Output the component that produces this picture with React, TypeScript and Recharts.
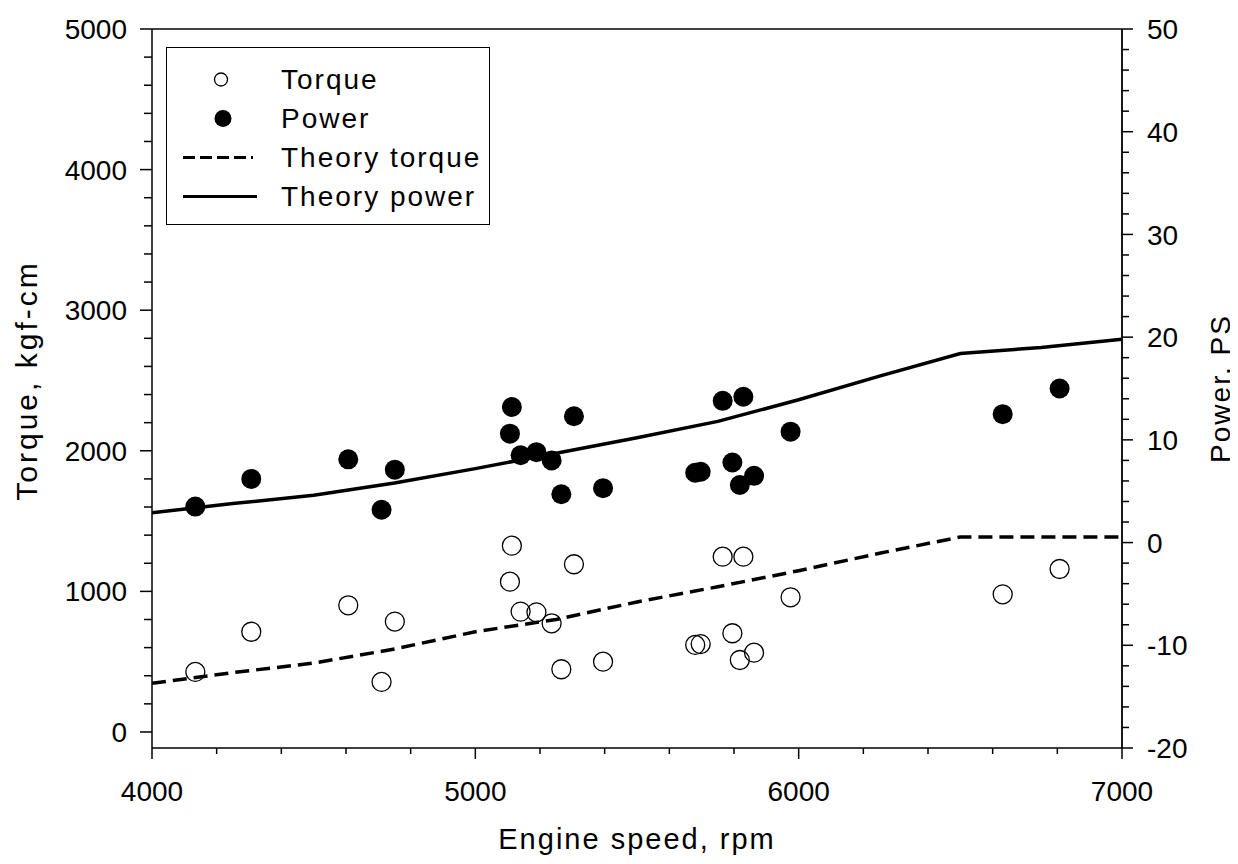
import { ComposedChart, Scatter, Line, XAxis, YAxis, ReferenceLine, Legend } from 'recharts';

const FONT = "Arial, 'Liberation Sans', Helvetica, sans-serif";

// measured points (torque and power share the same engine speeds)
const measuredRpm = [4134, 4307, 4607, 4710, 4751, 5107, 5113, 5140, 5189, 5236, 5266, 5305, 5395, 5680, 5697, 5765, 5795, 5818, 5829, 5862, 5975, 6631, 6807];
const measuredTorque = [427, 713, 901, 356, 785, 1069, 1325, 856, 851, 773, 446, 1193, 500, 619, 625, 1247, 702, 512, 1247, 564, 958, 979, 1159];
const measuredPower = [3.5, 6.2, 8.1, 3.2, 7.1, 10.6, 13.2, 8.5, 8.8, 8.0, 4.7, 12.3, 5.3, 6.8, 6.9, 13.8, 7.8, 5.6, 14.2, 6.5, 10.8, 12.5, 15.0];

// theory curves
const theoryRpm = [4000, 4250, 4500, 4750, 5000, 5250, 5500, 5750, 6000, 6250, 6500, 6750, 7000];
const theoryTorque = [346, 422, 490, 590, 713, 800, 925, 1033, 1147, 1271, 1387, 1387, 1387];
const theoryPower = [2.9, 3.8, 4.6, 5.8, 7.2, 8.7, 10.2, 11.8, 13.9, 16.2, 18.4, 19.0, 19.8];

// ticks (minor + labelled)
const rpmTicks = [4000, 4200, 4400, 4600, 4800, 5000, 5200, 5400, 5600, 5800, 6000, 6200, 6400, 6600, 6800, 7000];
const rpmLabels = [4000, 5000, 6000, 7000];
const torqueTicks = [0, 200, 400, 600, 800, 1000, 1200, 1400, 1600, 1800, 2000, 2200, 2400, 2600, 2800, 3000, 3200, 3400, 3600, 3800, 4000, 4200, 4400, 4600, 4800, 5000];
const torqueLabels = [0, 1000, 2000, 3000, 4000, 5000];
const powerTicks = [-20, -18, -16, -14, -12, -10, -8, -6, -4, -2, 0, 2, 4, 6, 8, 10, 12, 14, 16, 18, 20, 22, 24, 26, 28, 30, 32, 34, 36, 38, 40, 42, 44, 46, 48, 50];
const powerLabels = [-20, -10, 0, 10, 20, 30, 40, 50];

const legendItems = ['Torque', 'Power', 'Theory torque', 'Theory power'];

const measuredRows = measuredRpm.map((rpm, i) => ({ rpm, torque: measuredTorque[i], power: measuredPower[i] }));
const theoryRows = theoryRpm.map((rpm, i) => ({ rpm, torqueTheory: theoryTorque[i], powerTheory: theoryPower[i] }));

function XTick(props: any) {
  const { x, y, payload } = props;
  const major = rpmLabels.includes(payload.value);
  return (
    <g>
      <line x1={x} y1={y} x2={x} y2={y + (major ? 11 : 6)} stroke="#000" strokeWidth={1.5} />
      {major && (
        <text x={x} y={y + 53} textAnchor="middle" fontSize={28} fill="#000" fontFamily={FONT}>
          {payload.value}
        </text>
      )}
    </g>
  );
}

function LeftTick(props: any) {
  const { x, y, payload } = props;
  const major = torqueLabels.includes(payload.value);
  return (
    <g>
      <line x1={x - (major ? 12 : 8)} y1={y} x2={x} y2={y} stroke="#000" strokeWidth={1.5} />
      {major && (
        <text x={x - 25} y={y} dy="0.36em" textAnchor="end" fontSize={28} fill="#000" fontFamily={FONT}>
          {payload.value}
        </text>
      )}
    </g>
  );
}

function RightTick(props: any) {
  const { x, y, payload } = props;
  const major = powerLabels.includes(payload.value);
  return (
    <g>
      <line x1={x} y1={y} x2={x + (major ? 11 : 7)} y2={y} stroke="#000" strokeWidth={1.5} />
      {major && (
        <text x={x + 25} y={y} dy="0.36em" textAnchor="start" fontSize={28} fill="#000" fontFamily={FONT}>
          {payload.value}
        </text>
      )}
    </g>
  );
}

const yTitle = (text: string, dx: number, dy: number, size: number, spacing: number) => (props: any) => {
  const { x, y, height } = props.viewBox;
  const cx = x + dx;
  const cy = y + height / 2 + dy;
  return (
    <text x={cx} y={cy} transform={`rotate(-90 ${cx} ${cy})`} textAnchor="middle" dominantBaseline="central"
      fontSize={size} letterSpacing={spacing} fill="#000" fontFamily={FONT}>
      {text}
    </text>
  );
};

const xTitle = (props: any) => {
  const { x, y, width } = props.viewBox;
  return (
    <text x={x + width / 2} y={y + 101} textAnchor="middle" fontSize={29} letterSpacing={2} fill="#000" fontFamily={FONT}>
      Engine speed, rpm
    </text>
  );
};

function LegendSymbol({ index }: { index: number }) {
  return (
    <svg width={104} height={39} style={{ display: 'block' }}>
      {index === 0 && <circle cx={54} cy={19.5} r={6.5} fill="none" stroke="#000" strokeWidth={1.3} />}
      {index === 1 && <circle cx={56} cy={19.5} r={8.5} fill="#000" />}
      {index === 2 && <line x1={16} y1={19.5} x2={86} y2={19.5} stroke="#000" strokeWidth={3} strokeDasharray="12 5" />}
      {index === 3 && <line x1={16} y1={19.5} x2={90} y2={19.5} stroke="#000" strokeWidth={3} />}
    </svg>
  );
}

function LegendBox() {
  return (
    <div style={{ border: '1.5px solid #000', width: 324, height: 178, boxSizing: 'border-box', paddingTop: 12, background: '#fff', fontFamily: FONT, color: '#000' }}>
      {legendItems.map((item, i) => (
        <div key={item} style={{ display: 'flex', alignItems: 'center', height: 39 }}>
          <LegendSymbol index={i} />
          <span style={{ fontSize: 28, letterSpacing: 2, marginLeft: 10, lineHeight: '39px', whiteSpace: 'nowrap' }}>{item}</span>
        </div>
      ))}
    </div>
  );
}

export default function App() {
  return (
    <div style={{ width: 1238, height: 864, margin: -8, position: 'relative', background: '#fff' }}>
      <ComposedChart width={1238} height={864} margin={{ top: 29, right: 0, bottom: 0, left: 0 }}>
        <XAxis
          dataKey="rpm"
          type="number"
          domain={[4000, 7000]}
          ticks={rpmTicks}
          interval={0}
          allowDataOverflow
          height={116}
          tickLine={false}
          tickSize={0}
          tickMargin={0}
          tick={(p: any) => <XTick {...p} />}
          axisLine={{ stroke: '#000', strokeWidth: 1.5 }}
          label={{ content: xTitle }}
        />
        <YAxis
          yAxisId="torque"
          orientation="left"
          type="number"
          domain={[-114, 5000]}
          ticks={torqueTicks}
          interval={0}
          allowDataOverflow
          width={152}
          tickLine={false}
          tickSize={0}
          tickMargin={0}
          tick={(p: any) => <LeftTick {...p} />}
          axisLine={{ stroke: '#000', strokeWidth: 1.5 }}
          label={{ content: yTitle('Torque, kgf-cm', 26, -8, 30, 3) }}
        />
        <YAxis
          yAxisId="power"
          orientation="right"
          type="number"
          domain={[-20, 50]}
          ticks={powerTicks}
          interval={0}
          allowDataOverflow
          width={116}
          tickLine={false}
          tickSize={0}
          tickMargin={0}
          tick={(p: any) => <RightTick {...p} />}
          axisLine={{ stroke: '#000', strokeWidth: 1.8 }}
          label={{ content: yTitle('Power, PS', 98, 0, 28, 2) }}
        />
        <ReferenceLine yAxisId="torque" y={5000} stroke="#000" strokeWidth={1.5} />
        <Line
          data={theoryRows}
          yAxisId="torque"
          dataKey="torqueTheory"
          type="linear"
          stroke="#000"
          strokeWidth={3.5}
          strokeDasharray="14 7"
          dot={false}
          isAnimationActive={false}
        />
        <Line
          data={theoryRows}
          yAxisId="power"
          dataKey="powerTheory"
          type="linear"
          stroke="#000"
          strokeWidth={3.5}
          dot={false}
          isAnimationActive={false}
        />
        <Scatter
          data={measuredRows}
          yAxisId="torque"
          dataKey="torque"
          isAnimationActive={false}
          shape={(p: any) => <circle cx={p.cx} cy={p.cy} r={9.5} fill="none" stroke="#000" strokeWidth={1.3} />}
        />
        <Scatter
          data={measuredRows}
          yAxisId="power"
          dataKey="power"
          isAnimationActive={false}
          shape={(p: any) => <circle cx={p.cx} cy={p.cy} r={10} fill="#000" />}
        />
        <Legend
          layout="vertical"
          align="center"
          verticalAlign="middle"
          wrapperStyle={{ left: 166, top: 47, width: 'auto', height: 'auto' }}
          content={() => <LegendBox />}
        />
      </ComposedChart>
    </div>
  );
}
